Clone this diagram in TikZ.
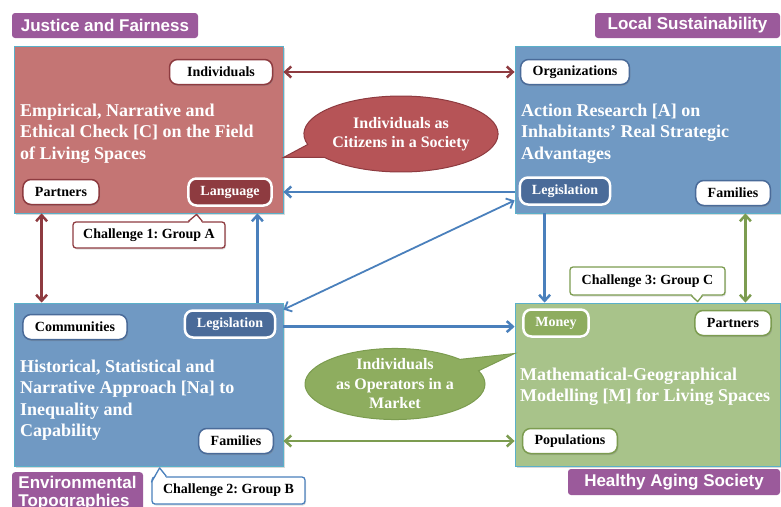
\documentclass[tikz,border=0pt]{standalone}
\usepackage{fontspec}
\setmainfont{Liberation Serif}
\setsansfont{Liberation Sans}
\usetikzlibrary{arrows.meta,calc,shadows}
\definecolor{cred}{HTML}{C47574}
\definecolor{cdarkred}{HTML}{8E3B40}
\definecolor{cbubred}{HTML}{B65457}
\definecolor{cblue}{HTML}{7099C3}
\definecolor{cdarkblue}{HTML}{4A6B99}
\definecolor{clink}{HTML}{4A80BC}
\definecolor{cgreen}{HTML}{A8C38A}
\definecolor{cdarkgreen}{HTML}{7C9C50}
\definecolor{cbubgreen}{HTML}{8EAD5F}
\definecolor{cpurple}{HTML}{9B5A9B}
\definecolor{cedge}{HTML}{5AB0C9}
\usetikzlibrary{shapes.callouts}
\frenchspacing
\begin{document}
\begin{tikzpicture}
			[x=1pt,y=-1pt,font=\bfseries,
			>={Straight Barb[length=6pt,width=11pt]},
			area/.style={draw=cedge,line width=0.8pt,inner sep=0,
				drop shadow={shadow xshift=1.5pt,shadow yshift=-1.5pt,opacity=0.3}},
			redarea/.style={area,fill=cred,minimum width=269pt,minimum height=167pt},
			bluearea/.style={area,fill=cblue},
			greenarea/.style={area,fill=cgreen,minimum width=265pt,minimum height=163pt},
			maintext/.style={text=white,anchor=west,align=left,inner sep=0,
				font=\fontsize{18}{21.5}\selectfont\bfseries},
			banner/.style={fill=cpurple,rounded corners=3pt,text=white,inner sep=0,
				font=\sffamily\bfseries\fontsize{17}{18}\selectfont},
			pill/.style={fill=white,rounded corners=8pt,line width=1.5pt,
				minimum height=25pt,inner xsep=12pt,inner ysep=0,
				font=\fontsize{14}{16}\selectfont\bfseries,
				drop shadow={shadow xshift=1pt,shadow yshift=-1.5pt,opacity=0.35}},
			darkpill/.style={pill,draw=white,line width=2.5pt,text=white,minimum height=27pt},
			challenge/.style={fill=white,line width=1.3pt,rounded corners=3pt,
				minimum width=152pt,minimum height=26pt,inner sep=0,
				font=\fontsize{14}{16}\selectfont\bfseries,
				drop shadow={shadow xshift=1pt,shadow yshift=-1.5pt,opacity=0.25}},
			notch/.style={line width=1.3pt,line join=round},
			bubble/.style={ellipse callout,line width=1pt,text=white,align=center,
				inner sep=0,callout pointer arc=22,
				font=\fontsize{16}{19.5}\selectfont\bfseries},
			link/.style={line width=2.5pt}]
		\useasboundingbox (0,0) rectangle (781,506);
		% the four fields
		\node (boxC)  at (148.5,129.5) [redarea] {};
		\node (boxA)  at (647.5,129.5) [bluearea,minimum width=265pt,minimum height=167pt] {};
		\node (boxNa) at (148.5,384.5) [bluearea,minimum width=269pt,minimum height=163pt] {};
		\node (boxM)  at (647.5,384.5) [greenarea] {};
		% banners
		\node (jf) at (105,25.5)  [banner,minimum width=186pt,minimum height=25pt] {Justice and Fairness};
		\node (ls) at (687.5,25.5) [banner,minimum width=185pt,minimum height=25pt] {Local Sustainability};
		\node (ha) at (674,482)   [banner,minimum width=212pt,minimum height=26pt] {Healthy Aging Society};
		\node (et) at (77.5,472)  [banner,anchor=north,minimum width=131pt,align=left,
			inner xsep=6pt,inner ysep=4pt] {Environmental\\Topographies};
		% titles
		\node (tC)  at (20,133.5)  [maintext] {Empirical, Narrative and\\Ethical Check [C] on the Field\\of Living Spaces};
		\node (tA)  at (521,133.5) [maintext] {Action Research [A] on\\Inhabitants' Real Strategic\\Advantages};
		\node (tNa) at (20,400)    [maintext] {Historical, Statistical and\\Narrative Approach [Na] to\\Inequality and\\Capability};
		\node (tM)  at (520,386.5) [maintext] {Mathematical-Geographical\\Modelling [M] for Living Spaces};
		% actors
		\node (ind)   at (221,72)  [pill,draw=cdarkred,minimum width=103pt] {Individuals};
		\node (partC) at (61,192)  [pill,draw=cdarkred] {Partners};
		\node (lang)  at (230,192) [darkpill,fill=cdarkred] {Language};
		\node (org)   at (575,72)  [pill,draw=cdarkblue] {Organizations};
		\node (legA)  at (565,191) [darkpill,fill=cdarkblue] {Legislation};
		\node (famA)  at (733,193) [pill,draw=cdarkblue] {Families};
		\node (comm)  at (75,327)  [pill,draw=cdarkblue] {Communities};
		\node (legNa) at (230,324) [darkpill,fill=cdarkblue] {Legislation};
		\node (famNa) at (236,441) [pill,draw=cdarkblue] {Families};
		\node (money) at (556,323) [darkpill,fill=cbubgreen] {Money};
		\node (partM) at (733,323) [pill,draw=cdarkgreen] {Partners};
		\node (pop)   at (570,441) [pill,draw=cdarkgreen] {Populations};
		% links
		\draw [link,cdarkred,<->] (boxC.east |- ind) -- (boxA.west |- org);
		\draw [link,clink,->] (boxA.west |- lang) -- (boxC.east |- lang);
		\draw [link,clink,->] ($(boxA.south west)+(30,0)$) -- ($(boxM.north west)+(30,0)$);
		\draw [link,cdarkgreen,<->] ($(boxA.south east)+(-35,0)$) -- ($(boxM.north east)+(-35,0)$);
		\draw [link,cdarkred,<->] ($(boxC.south west)+(28,0)$) -- ($(boxNa.north west)+(28,0)$);
		\draw [link,clink,->] ($(boxNa.north east)+(-26,0)$) -- ($(boxC.south east)+(-26,0)$);
		\draw [link,clink,line width=1.8pt,<->] ($(boxNa.north east)+(0,7)$) -- ($(boxA.south west)+(0,-13)$);
		\draw [link,clink,->] ($(boxNa.north east)+(0,24)$) -- ($(boxM.north west)+(0,24)$);
		\draw [link,cdarkgreen,<->] (boxNa.east |- famNa) -- (boxM.west |- pop);
		% speech bubbles
		\node (citizens) at (401,134) [bubble,draw=cdarkred,fill=cbubred,
			minimum width=192pt,minimum height=76pt,
			callout absolute pointer={($(boxC.east)+(0,28)$)}] {Individuals as\\Citizens in a Society};
		\node (operators) at (395,384) [bubble,draw=cdarkgreen,fill=cbubgreen,
			minimum width=180pt,minimum height=68pt,
			callout absolute pointer={($(boxM.west)+(0,-31)$)}] {Individuals\\as Operators in a\\Market};
		% challenges
		\node (chA) at (149,235) [challenge,draw=cdarkred] {Challenge 1: Group A};
		\node (chB) at (228.5,490.5) [challenge,draw=clink,minimum width=153pt,minimum height=27pt] {Challenge 2: Group B};
		\node (chC) at (647.5,281) [challenge,draw=cdarkgreen,minimum width=155pt,minimum height=28pt] {Challenge 3: Group C};
		\coordinate (pA) at ($(boxC.south west)+(183,1)$);
		\coordinate (pB) at ($(boxNa.south west)+(146,1.5)$);
		\coordinate (pC) at ($(boxM.north west)+(183,-1)$);
		\fill [white] ($(chA.north west)+(116,2)$) -- (pA) -- ($(chA.north west)+(130,2)$) -- cycle;
		\draw [notch,cdarkred] ($(chA.north west)+(116,0)$) -- (pA) -- ($(chA.north west)+(130,0)$);
		\fill [white] ($(chB.north west)+(1.5,6)$) -- (pB) -- ($(chB.north west)+(15,2)$) -- ($(chB.north west)+(1.5,2)$) -- cycle;
		\draw [notch,clink] ($(chB.north west)+(0,6)$) -- (pB) -- ($(chB.north west)+(15,0)$);
		\fill [white] ($(chC.south west)+(122,-2)$) -- (pC) -- ($(chC.south west)+(133,-2)$) -- cycle;
		\draw [notch,cdarkgreen] ($(chC.south west)+(122,0)$) -- (pC) -- ($(chC.south west)+(133,0)$);
		\end{tikzpicture}
\end{document}
